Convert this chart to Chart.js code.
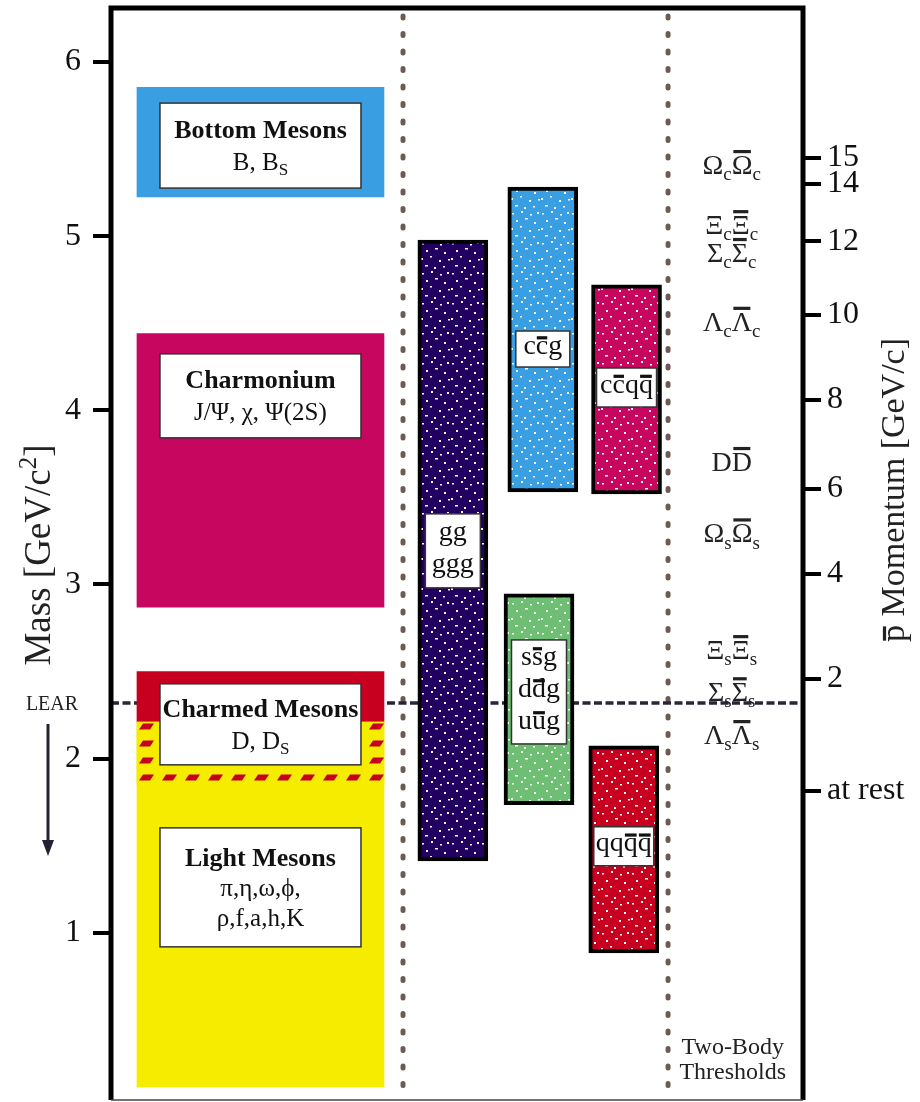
<!DOCTYPE html>
<html>
<head>
<meta charset="utf-8">
<script src="https://cdn.jsdelivr.net/npm/chart.js@4.4.1/dist/chart.umd.min.js"></script>
<style>
  html, body { margin: 0; padding: 0; background: #fff; }
  #wrap { width: 920px; height: 1102px; position: relative; }
</style>
</head>
<body>
<div id="wrap"><canvas id="c"></canvas></div>
<script>
const SERIF = '"Liberation Serif", "DejaVu Serif", serif';

// mass axis [GeV/c^2]
const massTicks = [1, 2, 3, 4, 5, 6];

// antiproton beam momentum [GeV/c], placed at the matching mass
const momentumLabels = ['15', '14', '12', '10', '8', '6', '4', '2', 'at rest'];
const momentumAtMass = [5.45, 5.30, 4.97, 4.55, 4.06, 3.55, 3.06, 2.46, 1.815];

// conventional mesons (left column)
const mesonNames = ['Bottom Mesons', 'Charmonium', 'Charmed Mesons', 'Light Mesons'];
const mesonMembers = [['B, B_S'], ['J/Ψ, χ, Ψ(2S)'], ['D, D_S'], ['π,η,ω,ϕ,', 'ρ,f,a,h,K']];
const mesonLow = [5.225, 2.87, 1.85, 0.115];
const mesonHigh = [5.855, 4.44, 2.50, 2.21];

// glueballs, hybrids, multiquarks   (~ = bar over next char)
const exoticNames = [['gg', 'ggg'], ['c~cg'], ['s~sg', 'd~dg', 'u~ug'], ['c~cq~q'], ['qq~q~q']];
const exoticLow = [1.413, 3.532, 1.735, 3.52, 0.885];
const exoticHigh = [4.978, 5.282, 2.946, 4.72, 2.073];

// two-body thresholds  (_ = subscript)
const thresholdNames = ['Ω_c~Ω_c', 'Ξ_c~Ξ_c', 'Σ_c~Σ_c', 'Λ_c~Λ_c', 'D~D', 'Ω_s~Ω_s', 'Ξ_s~Ξ_s', 'Σ_s~Σ_s', 'Λ_s~Λ_s'];
const thresholdMass = [5.41, 5.065, 4.905, 4.51, 3.705, 3.295, 2.625, 2.383, 2.137];

const learMass = 2.32;

// ---- layout (x in 0..100 of the plot width, sizes in px)
const Y_MIN = 0.04, Y_MAX = 6.31;
const mesonX = 21.6, mesonWidth = 247;
const exoticX = [49.4, 62.4, 61.85, 74.5, 74.1];
const exoticWidth = 70;
const thresholdX = 89.7;
const dividerX = [42.2, 80.5];
const mesonBoxes = [{m: 5.52, h: 85}, {m: 4.083, h: 84}, {m: 2.197, h: 81}, {m: 1.261, h: 119}];
const mesonBoxW = 201;
const exoticBoxes = [{m: 3.193, w: 55, h: 74}, {m: 4.352, w: 54, h: 36}, {m: 2.383, w: 55, h: 104}, {m: 4.131, w: 60, h: 39}, {m: 1.497, w: 60, h: 39}];

const C_BLUE = '#3a9fe2', C_MAG = '#c6065f', C_RED = '#c8001f', C_YEL = '#f5ec00',
      C_PURP = '#220062', C_GREEN = '#6ebf74';

const canvas = document.getElementById('c');
const mainCtx = canvas.getContext('2d');

// white speckle texture (fixed, hand placed)
const SPECKS = [[2,3,2,1.5],[11,1,2,2],[20,4,2,1.5],[27,2,2,2],[6,10,2,2],[15,8,3,1.5],
                [24,12,2,2],[1,18,2,2],[10,16,2,1.5],[19,20,2,2],[28,19,2,1.5],[5,25,3,1.5],
                [14,27,2,2],[23,26,2,1.5]];
function speckle(color) {
  const t = document.createElement('canvas');
  t.width = 30; t.height = 30;
  const g = t.getContext('2d');
  g.fillStyle = color; g.fillRect(0, 0, 30, 30);
  g.fillStyle = '#fff';
  SPECKS.forEach(([x, y, w, h]) => g.fillRect(x, y, w, h));
  return mainCtx.createPattern(t, 'repeat');
}
function hatch() {
  const t = document.createElement('canvas');
  t.width = 23; t.height = 17;
  const g = t.getContext('2d');
  g.fillStyle = C_YEL; g.fillRect(0, 0, 23, 17);
  g.fillStyle = C_RED;
  g.beginPath();
  g.moveTo(1, 15.5); g.lineTo(12, 15.5); g.lineTo(16, 9.5); g.lineTo(5, 9.5);
  g.closePath(); g.fill();
  return mainCtx.createPattern(t, 'repeat');
}

// tiny rich text: ~ bar, _ sub, ^ sup
function parseRich(s) {
  const out = [];
  let bar = false, sub = false, sup = false;
  for (const ch of s) {
    if (ch === '~') { bar = true; continue; }
    if (ch === '_') { sub = true; continue; }
    if (ch === '^') { sup = true; continue; }
    out.push({ch, bar, sub, sup});
    bar = sub = sup = false;
  }
  return out;
}
function drawRich(ctx, s, x, y, size, weight, align) {
  const parts = parseRich(s);
  const font = p => (weight || 'normal') + ' ' + ((p.sub || p.sup) ? Math.round(size * 0.68) : size) + 'px ' + SERIF;
  let w = 0;
  parts.forEach(p => { ctx.font = font(p); p.w = ctx.measureText(p.ch).width; w += p.w; });
  let cx = align === 'left' ? x : align === 'right' ? x - w : x - w / 2;
  ctx.textAlign = 'left';
  ctx.textBaseline = 'alphabetic';
  parts.forEach(p => {
    ctx.font = font(p);
    const dy = p.sub ? size * 0.22 : p.sup ? -size * 0.38 : 0;
    ctx.fillText(p.ch, cx, y + dy);
    if (p.bar) {
      const cap = p.ch !== p.ch.toLowerCase();
      const by = y - size * (cap ? 0.80 : 0.58);
      ctx.fillRect(cx + p.w * 0.08, by - 1.6, p.w * 0.84, 3.2);
    }
    cx += p.w;
  });
  return w;
}

const decor = {
  id: 'decor',
  beforeDatasetsDraw(chart) {
    const {ctx, chartArea: a, scales: {x, y}} = chart;
    ctx.save();
    // dotted column dividers
    ctx.strokeStyle = '#6e5a55';
    ctx.lineWidth = 5;
    ctx.lineCap = 'round';
    ctx.setLineDash([2, 15.5]);
    dividerX.forEach(v => {
      const px = x.getPixelForValue(v);
      ctx.beginPath(); ctx.moveTo(px, a.top + 8); ctx.lineTo(px, a.bottom); ctx.stroke();
    });
    // LEAR limit
    ctx.strokeStyle = '#262638';
    ctx.lineWidth = 3.5;
    ctx.lineCap = 'butt';
    ctx.setLineDash([8, 3.5]);
    const ly = y.getPixelForValue(learMass);
    ctx.beginPath(); ctx.moveTo(a.left, ly); ctx.lineTo(a.right, ly); ctx.stroke();
    ctx.restore();
  },
  afterDatasetsDraw(chart) {
    const {ctx, chartArea: a, scales: {x, y}} = chart;
    ctx.save();
    ctx.fillStyle = '#000';

    // meson label boxes
    const mx = x.getPixelForValue(mesonX);
    mesonBoxes.forEach((b, i) => {
      const cy = y.getPixelForValue(b.m);
      ctx.fillStyle = '#fff';
      ctx.fillRect(mx - mesonBoxW / 2, cy - b.h / 2, mesonBoxW, b.h);
      ctx.strokeStyle = '#333'; ctx.lineWidth = 1.5;
      ctx.strokeRect(mx - mesonBoxW / 2, cy - b.h / 2, mesonBoxW, b.h);
      ctx.fillStyle = '#111';
      const lines = [mesonNames[i]].concat(mesonMembers[i]);
      const step = lines.length > 2 ? 30 : 32;
      lines.forEach((t, j) => {
        const ty = cy + (j - (lines.length - 1) / 2) * step + 25 * 0.33;
        drawRich(ctx, t, mx, ty, j === 0 ? 26 : 25, j === 0 ? 'bold' : 'normal', 'center');
      });
    });

    // exotic label boxes
    const meta = chart.getDatasetMeta(2);
    exoticBoxes.forEach((b, i) => {
      const bx = meta.data[i].x;
      const cy = y.getPixelForValue(b.m);
      ctx.fillStyle = '#fff';
      ctx.fillRect(bx - b.w / 2, cy - b.h / 2, b.w, b.h);
      ctx.strokeStyle = '#333'; ctx.lineWidth = 1.5;
      ctx.strokeRect(bx - b.w / 2, cy - b.h / 2, b.w, b.h);
      ctx.fillStyle = '#111';
      const lines = exoticNames[i];
      lines.forEach((t, j) => {
        const ty = cy + (j - (lines.length - 1) / 2) * 32 + 28 * 0.18;
        drawRich(ctx, t, bx, ty, 28, 'normal', 'center');
      });
    });

    // thresholds
    ctx.fillStyle = '#222';
    chart.getDatasetMeta(3).data.forEach((pt, i) => {
      drawRich(ctx, thresholdNames[i], pt.x, pt.y + 28 * 0.33, 28, 'normal', 'center');
    });
    ctx.font = '24px ' + SERIF;
    ctx.textAlign = 'center';
    ctx.fillText('Two-Body', x.getPixelForValue(thresholdX) + 1, 1054);
    ctx.fillText('Thresholds', x.getPixelForValue(thresholdX) + 1, 1079);

    // frame
    ctx.strokeStyle = '#000';
    ctx.lineWidth = 5;
    ctx.beginPath();
    ctx.moveTo(a.left, a.bottom); ctx.lineTo(a.left, a.top); ctx.lineTo(a.right, a.top); ctx.lineTo(a.right, a.bottom);
    ctx.stroke();
    ctx.lineWidth = 1.5;
    ctx.strokeStyle = '#444';
    ctx.beginPath(); ctx.moveTo(a.left, a.bottom); ctx.lineTo(a.right, a.bottom); ctx.stroke();

    // LEAR arrow
    ctx.fillStyle = '#222';
    ctx.font = '20px ' + SERIF;
    ctx.textAlign = 'center';
    ctx.fillText('LEAR', 52, y.getPixelForValue(learMass) + 7);
    ctx.strokeStyle = '#222233';
    ctx.lineWidth = 3;
    ctx.beginPath(); ctx.moveTo(48, 724); ctx.lineTo(48, 845); ctx.stroke();
    ctx.fillStyle = '#222233';
    ctx.beginPath(); ctx.moveTo(42, 840); ctx.lineTo(54, 840); ctx.lineTo(48, 856); ctx.closePath(); ctx.fill();

    // axis titles
    ctx.fillStyle = '#222';
    ctx.save();
    ctx.translate(38, 555); ctx.rotate(-Math.PI / 2);
    drawRich(ctx, 'Mass [GeV/c^2]', 0, 37 * 0.33, 37, 'normal', 'center');
    ctx.restore();
    ctx.save();
    ctx.translate(893, 490); ctx.rotate(-Math.PI / 2);
    drawRich(ctx, '~p Momentum [GeV/c]', 0, 34 * 0.33, 34, 'normal', 'center');
    ctx.restore();

    ctx.restore();
  }
};

const tickFont = {family: SERIF, size: 32};
const axisGrid = {drawOnChartArea: false, drawTicks: true, tickLength: 18, lineWidth: 4, color: '#000'};
function fitAxis(width) {
  return s => { s.width = width; s.paddingTop = 0; s.paddingBottom = 0; };
}

new Chart(canvas, {
  type: 'bar',
  data: {
    datasets: [
      { // charmed mesons overlapping the light mesons
        label: 'overlap', order: 0, barThickness: mesonWidth, grouped: false,
        backgroundColor: hatch(), borderWidth: 0,
        data: [{x: mesonX, y: [mesonLow[2], mesonHigh[3]]}]
      },
      {
        label: 'mesons', order: 1, barThickness: mesonWidth, grouped: false,
        backgroundColor: [C_BLUE, C_MAG, C_RED, C_YEL], borderWidth: 0,
        data: mesonNames.map((n, i) => ({x: mesonX, y: [i === 2 ? mesonHigh[3] : mesonLow[i], mesonHigh[i]]}))
      },
      {
        label: 'exotics', order: 2, barThickness: exoticWidth, grouped: false,
        backgroundColor: [speckle(C_PURP), speckle(C_BLUE), speckle(C_GREEN), speckle(C_MAG), speckle(C_RED)],
        borderColor: '#000', borderWidth: 4, borderSkipped: false,
        data: exoticNames.map((n, i) => ({x: exoticX[i], y: [exoticLow[i], exoticHigh[i]]}))
      },
      {
        type: 'scatter', label: 'thresholds', order: 3, pointRadius: 0,
        data: thresholdMass.map(m => ({x: thresholdX, y: m}))
      }
    ]
  },
  options: {
    responsive: true,
    maintainAspectRatio: false,
    devicePixelRatio: 1,
    animation: false,
    events: [],
    layout: {padding: {top: 8, bottom: 2, left: 0, right: 0}},
    plugins: {legend: {display: false}, tooltip: {enabled: false}},
    scales: {
      x: {type: 'linear', min: 0, max: 100, display: false, offset: false},
      y: {
        position: 'left', min: Y_MIN, max: Y_MAX,
        afterBuildTicks: s => { s.ticks = massTicks.map(v => ({value: v})); },
        afterFit: fitAxis(111),
        ticks: {font: tickFont, color: '#111', padding: 12, autoSkip: false},
        grid: axisGrid, border: {display: false}
      },
      p: {
        position: 'right', min: Y_MIN, max: Y_MAX,
        afterBuildTicks: s => { s.ticks = momentumAtMass.map(v => ({value: v})); },
        afterFit: fitAxis(117),
        ticks: {font: tickFont, color: '#111', padding: 6, autoSkip: false,
                callback: (v, i) => momentumLabels[i]},
        grid: axisGrid, border: {display: false}
      }
    }
  },
  plugins: [decor]
});
</script>
</body>
</html>
